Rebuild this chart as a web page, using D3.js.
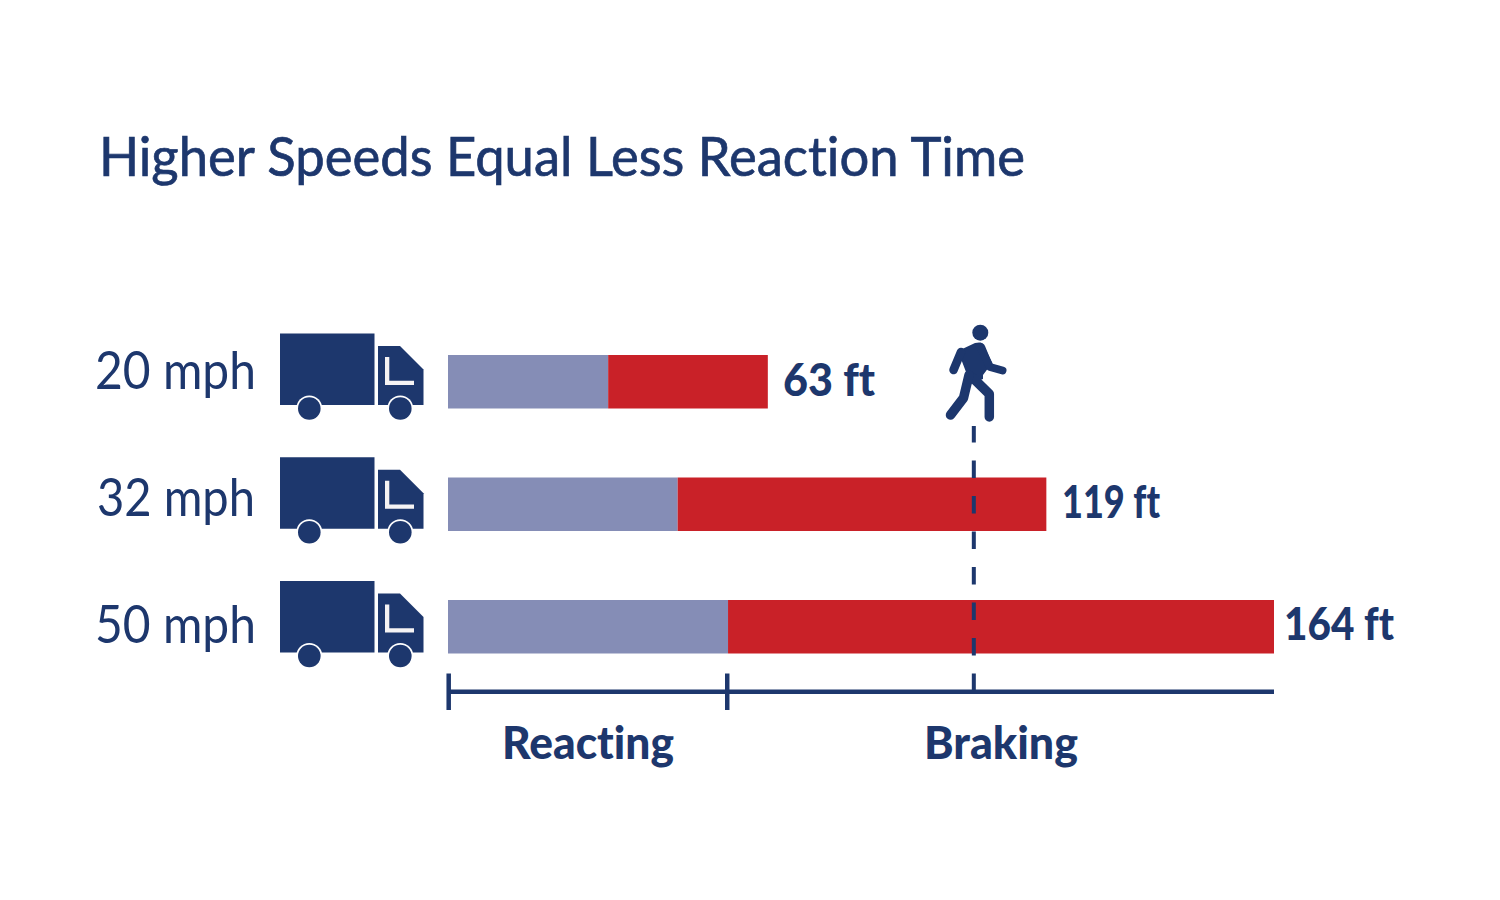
<!DOCTYPE html>
<html><head><meta charset="utf-8">
<script src="https://cdn.jsdelivr.net/npm/d3@7"></script>
<style>html,body{margin:0;background:#fff}svg{display:block}text{font-family:Lato,"Open Sans",sans-serif;fill:#1d376d;font-variant-ligatures:none}</style>
</head><body><svg id="c" width="1500" height="900"></svg>
<script>
const titleText = "Higher Speeds Equal Less Reaction Time";
const speeds = ["20 mph","32 mph","50 mph"];
const reacting = [31.8,45.6,55.6];
const braking = [31.7,73.2,108.4];
const totalLabels = ["63 ft","119 ft","164 ft"];
const phaseLabels = ["Reacting","Braking"];
const axisTicks = [0,55.3,104.4];
const navy="#1d376d", peri="#858db6", red="#c92128";

const svg=d3.select("#c");
const x=d3.scaleLinear().domain([0,164]).range([448,1274]);
const yBar=d3.scalePoint().domain(speeds).range([355,600]);
const yTruck=d3.scalePoint().domain(speeds).range([333.5,581]);
const barH=53.5;

svg.append("text").attr("x",99).attr("y",176).attr("font-size",55)
  .attr("stroke",navy).attr("stroke-width",0.7)
  .attr("textLength",926).attr("lengthAdjust","spacingAndGlyphs").text(titleText);

const labelBase=[389,516,643], labelX=[95,97,95], labelW=[161,158,161];
svg.selectAll(".sp").data(speeds).join("text").attr("class","sp")
  .attr("x",(d,i)=>labelX[i]).attr("y",(d,i)=>labelBase[i]).attr("font-size",52)
  .attr("textLength",(d,i)=>labelW[i]).attr("lengthAdjust","spacingAndGlyphs").text(d=>d);

// truck icon
const truck=svg.selectAll(".truck").data(speeds).join("g").attr("class","truck")
  .attr("transform",d=>`translate(280,${yTruck(d)})`);
truck.append("path").attr("fill",navy).attr("d","M0 0H94.5V71.5H0Z");
truck.append("path").attr("fill",navy).attr("d","M98 12.5H120L143.5 36V71.5H98Z");
truck.append("path").attr("fill","#f5f3f4").attr("d","M105 23.5H109.3V47.2H134V51.5H105Z");
[29.3,120.3].forEach(cx=>{
  truck.append("circle").attr("cx",cx).attr("cy",75).attr("r",13).attr("fill","#fff");
  truck.append("circle").attr("cx",cx).attr("cy",75).attr("r",11.3).attr("fill",navy);
});

svg.selectAll(".r").data(speeds).join("rect").attr("class","r")
  .attr("x",x(0)).attr("y",d=>yBar(d)).attr("height",barH)
  .attr("width",(d,i)=>x(reacting[i])-x(0)).attr("fill",peri);
svg.selectAll(".b").data(speeds).join("rect").attr("class","b")
  .attr("x",(d,i)=>x(reacting[i])).attr("y",d=>yBar(d)).attr("height",barH)
  .attr("width",(d,i)=>x(reacting[i]+braking[i])-x(reacting[i])).attr("fill",red);

const valX=[783,1062,1284], valW=[92,98,110], valBase=[396,518,640];
svg.selectAll(".v").data(totalLabels).join("text").attr("class","v")
  .attr("x",(d,i)=>valX[i]).attr("y",(d,i)=>valBase[i]).attr("font-size",45).attr("font-weight",900)
  .attr("textLength",(d,i)=>valW[i]).attr("lengthAdjust","spacingAndGlyphs").text(d=>d);

// axis
const ax=svg.append("g").attr("stroke",navy).attr("fill","none");
ax.append("line").attr("x1",x(0)).attr("x2",x(164)).attr("y1",691.7).attr("y2",691.7).attr("stroke-width",4.5);
ax.selectAll(".t").data(axisTicks.slice(0,2)).join("line").attr("class","t")
  .attr("transform","translate(0.7,0)")
  .attr("x1",d=>x(d)).attr("x2",d=>x(d)).attr("y1",673.5).attr("y2",710).attr("stroke-width",4.5);
ax.append("line").attr("x1",x(axisTicks[2])).attr("x2",x(axisTicks[2]))
  .attr("y1",691).attr("y2",426).attr("stroke-width",4).attr("stroke-dasharray","17.5 18");

const phX=[502,924], phW=[172,154];
svg.selectAll(".ph").data(phaseLabels).join("text").attr("class","ph")
  .attr("x",(d,i)=>phX[i]).attr("y",759).attr("font-size",45).attr("font-weight",900)
  .attr("textLength",(d,i)=>phW[i]).attr("lengthAdjust","spacingAndGlyphs").text(d=>d);

// pedestrian icon
const p=svg.append("g").attr("fill",navy);
p.append("circle").attr("cx",980.3).attr("cy",332.7).attr("r",8);
p.append("path").attr("d","M958 351L975 343Q983 341 985 346L992 363L983 375L983 379L972 383L963 397L966 372Z");
const limbs=[
  {d:"M961 352L953.5 370",w:8.5},
  {d:"M980 347L990 367L1002.5 370.5",w:8},
  {d:"M973 378L989.3 394V417",w:9.5},
  {d:"M969 375L963.5 398L950.5 415",w:9.5}];
p.selectAll(".l").data(limbs).join("path").attr("class","l").attr("d",d=>d.d).attr("fill","none")
  .attr("stroke",navy).attr("stroke-width",d=>d.w).attr("stroke-linecap","round").attr("stroke-linejoin","round");
</script></body></html>
